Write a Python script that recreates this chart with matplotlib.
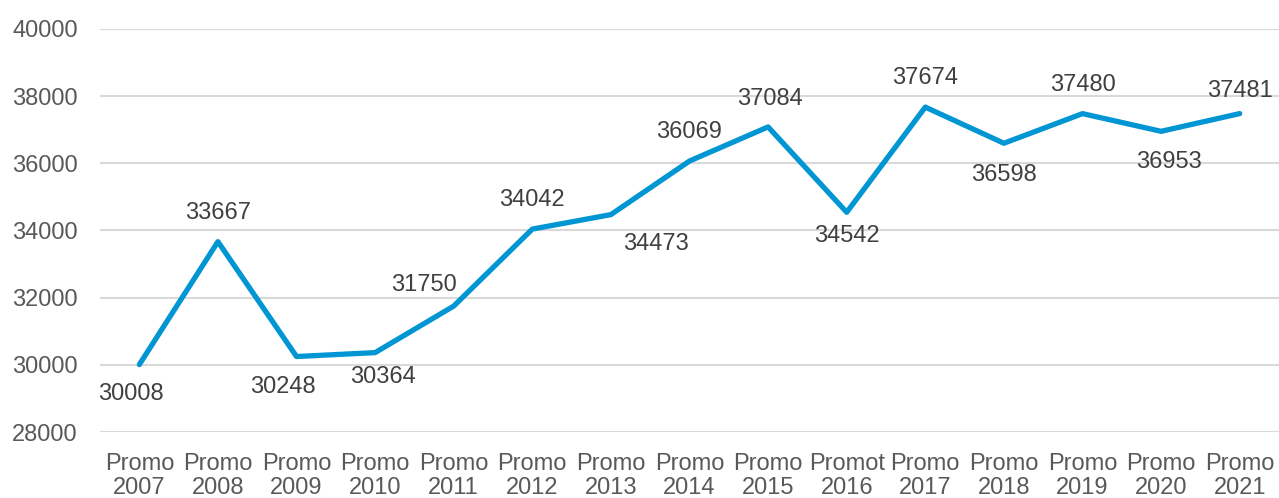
import matplotlib
matplotlib.use("Agg")
import matplotlib.pyplot as plt

plt.rcParams['font.family'] = ['Liberation Sans', 'DejaVu Sans']

categories = ["Promo\n2007", "Promo\n2008", "Promo\n2009", "Promo\n2010", "Promo\n2011",
              "Promo\n2012", "Promo\n2013", "Promo\n2014", "Promo\n2015", "Promot\n2016",
              "Promo\n2017", "Promo\n2018", "Promo\n2019", "Promo\n2020", "Promo\n2021"]
values = [30008, 33667, 30248, 30364, 31750, 34042, 34473, 36069, 37084, 34542,
          37674, 36598, 37480, 36953, 37481]
y_ticks = [28000, 30000, 32000, 34000, 36000, 38000, 40000]

# label placement relative to each point, in pixels (right, down) to the text centre
label_offsets_px = [(-8, 27), (0, -31), (-14, 28), (8, 22), (-30, -23.5),
                    (0, -31.5), (45, 27), (0, -31), (2, -30), (0, 21),
                    (0, -31.5), (0, 29), (0, -31), (8, 28), (0, -25)]

FS = 17
DPI = 100
px2pt = 72.0 / DPI
cap_half_px = 0.716 * FS / px2pt / 2  # half of digit height

fig = plt.figure(figsize=(12.79, 4.98), dpi=DPI)
ax = fig.add_axes([0.0782, 0.1325, 0.9218, 0.8093])

x = list(range(len(values)))
ax.plot(x, values, color="#0095D3", linewidth=3.8, solid_joinstyle="round",
        solid_capstyle="round", zorder=3)

for xi, v, (dx, dy) in zip(x, values, label_offsets_px):
    ax.annotate(str(v), (xi, v),
                xytext=(dx * px2pt, -(dy + cap_half_px) * px2pt),
                textcoords="offset points", ha="center", va="baseline",
                fontsize=FS, color="#404040")

ax.set_xlim(-0.5, len(values) - 0.5)
ax.set_ylim(28000, 40000)
ax.set_yticks(y_ticks)
ax.set_yticklabels([str(t) for t in y_ticks])
ax.set_xticks(x)
ax.set_xticklabels(categories, linespacing=1.15)
ax.tick_params(axis="both", length=0, labelsize=FS, labelcolor="#595959")
ax.tick_params(axis="y", pad=16)
ax.tick_params(axis="x", pad=15)
ax.grid(axis="y", color="#D9D9D9", linewidth=1.5)
ax.set_axisbelow(True)
for s in ax.spines.values():
    s.set_visible(False)

fig.savefig("out.png", dpi=DPI)
